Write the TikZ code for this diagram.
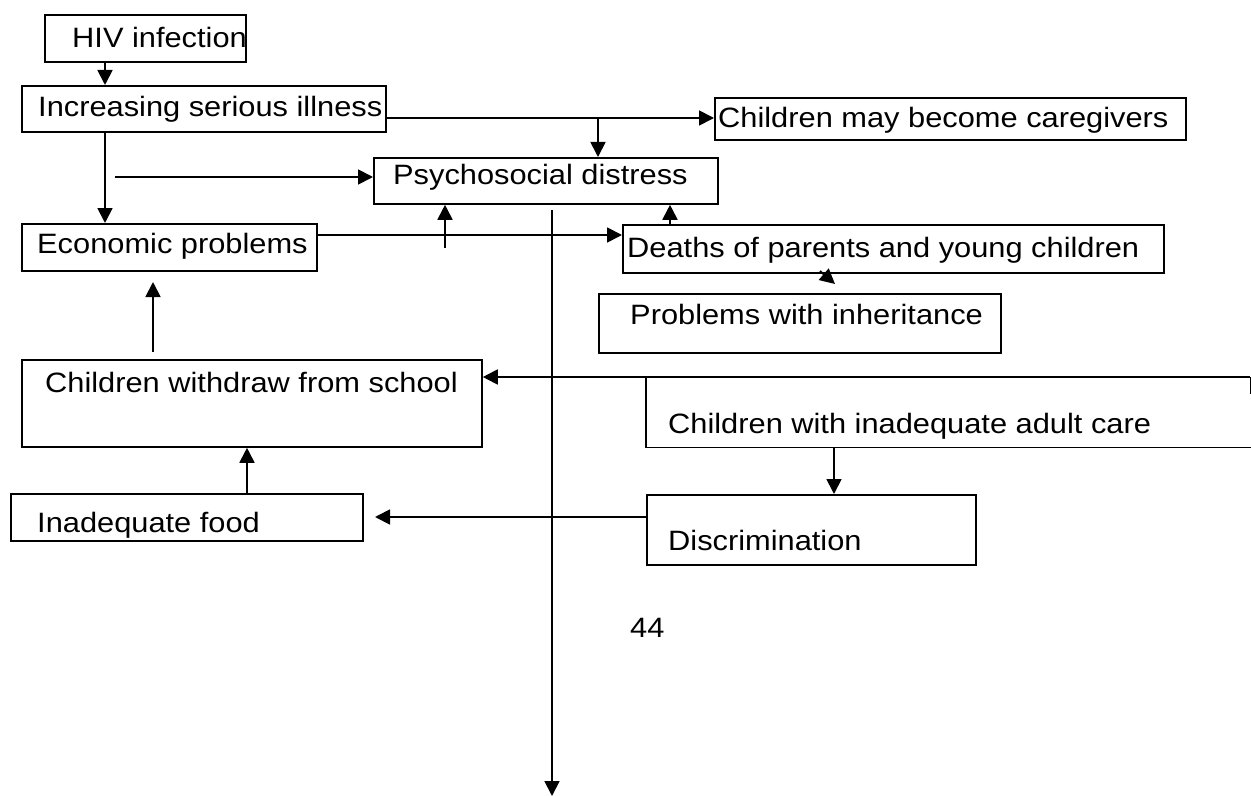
\documentclass[tikz,border=0pt]{standalone}
\usepackage{fontspec}
\setmainfont{Liberation Sans}[FakeStretch=1.1]
\usetikzlibrary{arrows.meta}
\tikzset{
  box/.style={draw, line width=1.8pt, anchor=north west, inner sep=0pt, rectangle},
  hidden/.style={anchor=north west, inner sep=0pt, rectangle},
  txt/.style={anchor=base west, inner sep=0pt, font=\fontsize{28pt}{34pt}\selectfont},
  arr/.style={line width=1.8pt, -{Triangle[length=15pt,width=15pt]}},
  ln/.style={line width=1.8pt}
}
\begin{document}
\begin{tikzpicture}[x=1pt,y=-1pt]
\useasboundingbox (0,0) rectangle (1251,797);
% texts
\node[txt] (thiv) at (72,48) {HIV infection};
\node[txt] (till) at (38,117) {Increasing serious illness};
\node[txt] (tcare) at (718,128) {Children may become caregivers};
\node[txt] (tpsy) at (393,185) {Psychosocial distress};
\node[txt] (teco) at (37,253) {Economic problems};
\node[txt] (tdeath) at (627,257) {Deaths of parents and young children};
\node[txt] (tinh) at (630,324) {Problems with inheritance};
\node[txt] (twd) at (45,392) {Children withdraw from school};
\node[txt] (tinad) at (668,433) {Children with inadequate adult care};
\node[txt] (tdisc) at (668,550) {Discrimination};
\node[txt] (tfood) at (37,532) {Inadequate food};
\node[txt] (tpage) at (630,637) {44};
% boxes
\node[box, minimum width=201pt, minimum height=47pt] (hiv) at (44,14) {};
\node[box, minimum width=364pt, minimum height=46pt] (ill) at (21,85) {};
\node[box, minimum width=471pt, minimum height=42pt] (care) at (714,97) {};
\node[box, minimum width=344pt, minimum height=46pt] (psy) at (373,157) {};
\node[box, minimum width=295pt, minimum height=47pt] (eco) at (21,223) {};
\node[box, minimum width=541pt, minimum height=48pt] (death) at (622,224) {};
\node[box, minimum width=402pt, minimum height=59pt] (inh) at (598,293) {};
\node[box, minimum width=460pt, minimum height=87pt] (wd) at (21,359) {};
\node[hidden, minimum width=604pt, minimum height=70pt] (inad) at (646,377) {};
\node[box, minimum width=329pt, minimum height=70pt] (disc) at (646,494) {};
\node[box, minimum width=352pt, minimum height=47pt] (food) at (10,493) {};
% open box of inadequate adult care
\draw[ln] (inad.north west) -- (inad.south west) -- (inad.south east) -- ++(6,0);
\draw[ln] (inad.north east) -- ++(0,17);
% connectors
\coordinate (j1) at (598,118);
\coordinate (s1) at (115,177);
\coordinate (s2) at (445,248);
\coordinate (s3) at (552,210);
\coordinate (e3) at (552,796);
\coordinate (s4) at (820,271);
\coordinate (e4) at (835,284);
\coordinate (e5) at (375,517);
\coordinate (s6) at (153,352);
\coordinate (e6) at (153,282);
\draw[arr] (105,0 |- hiv.south) -- (105,0 |- ill.north);
\draw[arr] (ill.east |- j1) -- (care.west |- j1);
\draw[arr] (j1) -- (j1 |- psy.north);
\draw[arr] (105,0 |- ill.south) -- (105,0 |- eco.north);
\draw[arr] (s1) -- (psy.west |- s1);
\draw[arr] (eco.east |- 0,235) -- (death.west |- 0,235);
\draw[arr] (s2) -- (s2 |- psy.south);
\draw[arr] (670,0 |- death.north) -- (670,0 |- psy.south);
\draw[arr] (s3) -- (e3);
\draw[arr] (s4) -- (e4);
\draw[arr] (inad.north east) -- (inad.north east -| wd.east);
\draw[arr] (834,0 |- inad.south) -- (834,0 |- disc.north);
\draw[arr] (disc.west |- e5) -- (e5);
\draw[arr] (247,0 |- food.north) -- (247,0 |- wd.south);
\draw[arr] (s6) -- (e6);
\end{tikzpicture}
\end{document}
